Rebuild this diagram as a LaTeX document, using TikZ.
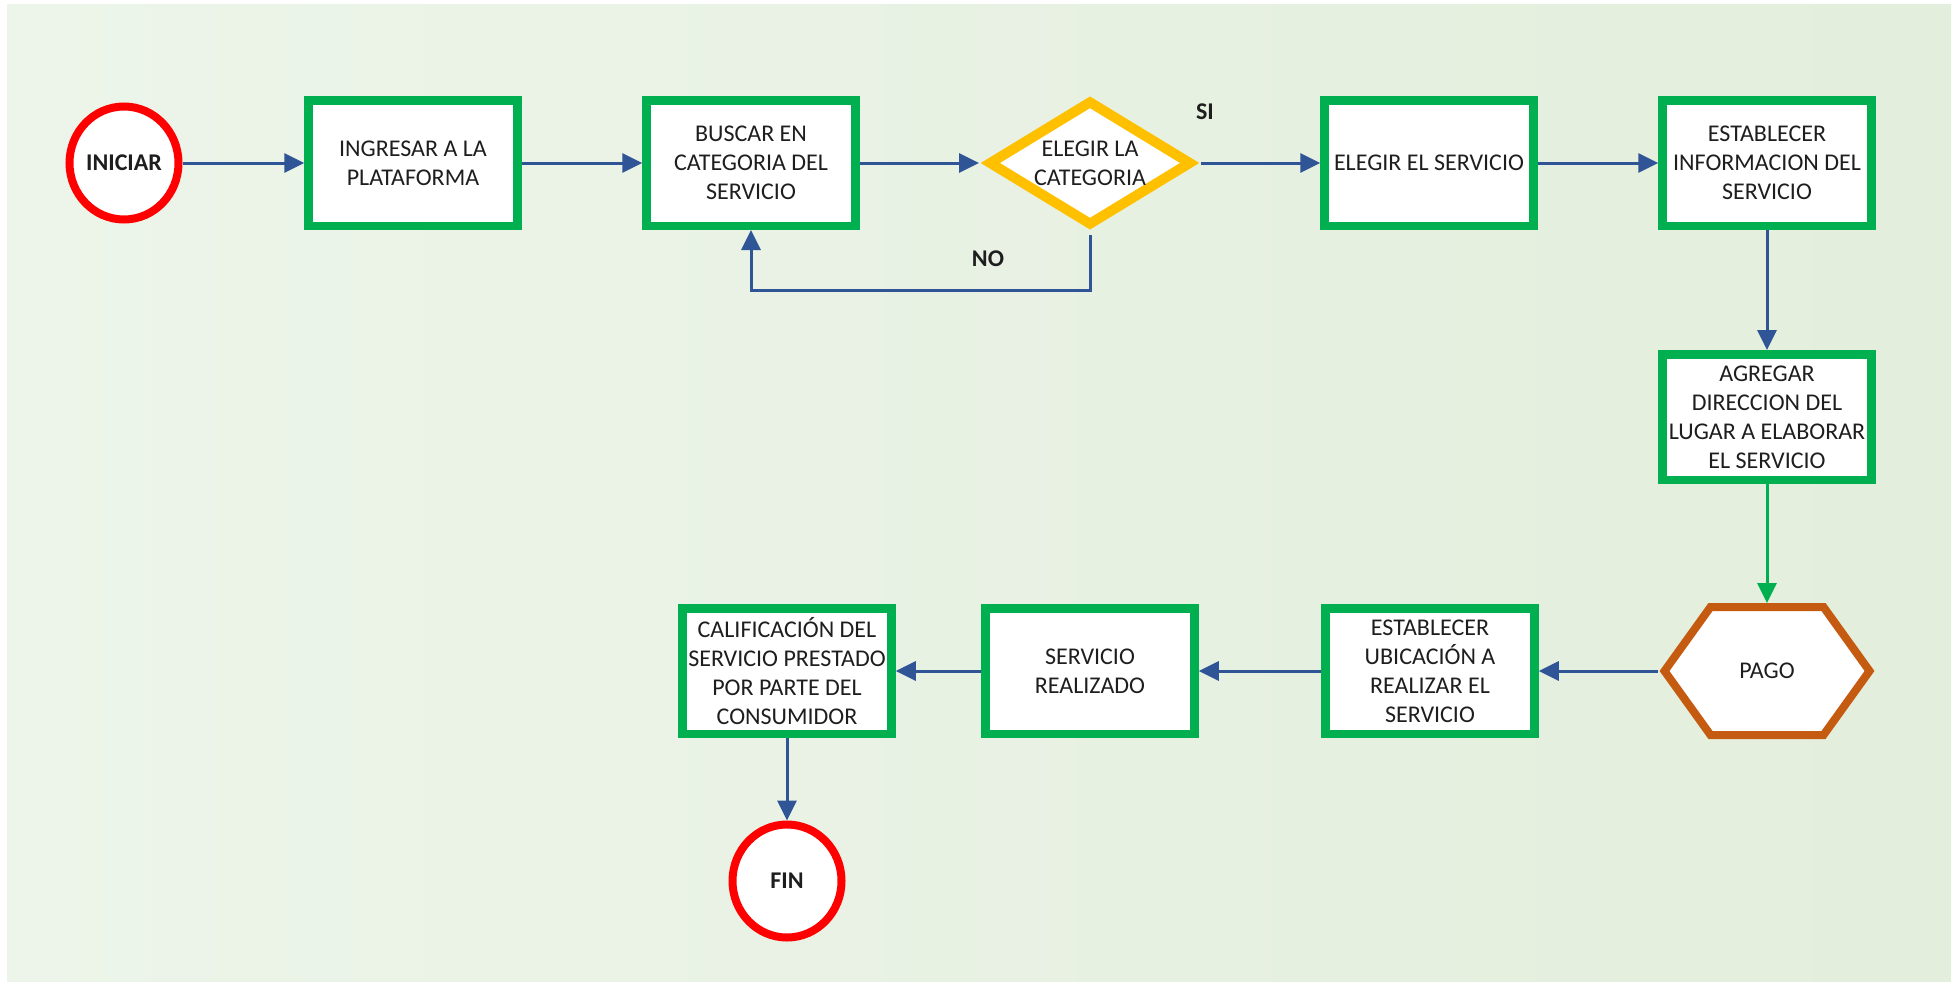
\documentclass[tikz,border=0pt]{standalone}
\usepackage{fontspec}
\setmainfont{Carlito}
\usetikzlibrary{shapes.geometric,arrows.meta,calc}

\definecolor{boxgreen}{HTML}{00B050}
\definecolor{termred}{HTML}{FF0000}
\definecolor{decgold}{HTML}{FFC000}
\definecolor{payorange}{HTML}{C55A11}
\definecolor{flowblue}{HTML}{2F5597}
\definecolor{bgleft}{HTML}{EDF5EA}
\definecolor{bgright}{HTML}{E3EEDC}
\definecolor{ink}{HTML}{1E1E1E}

\begin{document}
\begin{tikzpicture}[x=1pt,y=-1pt,
  font=\fontsize{24}{29}\selectfont,
  every node/.style={text=ink},
  stepbox/.style={draw=boxgreen, line width=8.5pt, fill=white,
    minimum width=209pt, minimum height=125.5pt, inner sep=0pt, align=center},
  terminal/.style={ellipse, draw=termred, line width=8pt, fill=white,
    minimum width=109pt, minimum height=113pt, inner sep=0pt,
    font=\fontsize{24}{29}\selectfont\bfseries},
  decision/.style={diamond, aspect=1.6, draw=decgold, line width=10pt, fill=white,
    minimum width=206pt, minimum height=128pt, inner sep=0pt, outer sep=8pt,
    align=center},
  hexframe/.style={draw=payorange, line width=8pt, fill=white, line join=miter},
  flow/.style={draw=flowblue, line width=3pt, -{Triangle[length=20pt,width=19pt]}},
  greenflow/.style={flow, draw=boxgreen},
  tag/.style={font=\fontsize{24}{29}\selectfont\bfseries}
]
% canvas and soft green backdrop
\useasboundingbox (0,0) rectangle (1959,982);
\shade[left color=bgleft, right color=bgright] (7,5) rectangle (1951,982);

% upper row
\node[terminal] (ini) at (124,163) {INICIAR};
\node[stepbox] (ing) at (413,163) {INGRESAR A LA\\PLATAFORMA};
\node[stepbox] (bus) at (751,163) {BUSCAR EN\\CATEGORIA DEL\\SERVICIO};
\node[decision] (dec) at (1090,163) {ELEGIR LA\\CATEGORIA};
\node[stepbox] (eser) at (1429,163) {ELEGIR EL SERVICIO};
\node[stepbox] (info) at (1767,163) {ESTABLECER\\INFORMACION DEL\\SERVICIO};

% right column
\node[stepbox] (dir) at (1767,417) {AGREGAR\\DIRECCION DEL\\LUGAR A ELABORAR\\EL SERVICIO};

% payment hexagon
\node[minimum width=219pt, minimum height=136pt, inner sep=0pt, outer sep=0pt] (pago) at (1767,671) {};
\draw[hexframe] ($(pago.west)+(7,0)$) -- ($(pago.north west)+(53,4)$)
  -- ($(pago.north east)+(-53,4)$) -- ($(pago.east)+(-7,0)$)
  -- ($(pago.south east)+(-53,-4)$) -- ($(pago.south west)+(53,-4)$) -- cycle;
\node (pagotxt) at (pago.center) {PAGO};

% lower row
\node[stepbox] (ubi) at (1430,671) {ESTABLECER\\UBICACIÓN A\\REALIZAR EL\\SERVICIO};
\node[stepbox] (rea) at (1090,671) {SERVICIO\\REALIZADO};
\node[stepbox] (cal) at (787,671) {CALIFICACIÓN DEL\\SERVICIO PRESTADO\\POR PARTE DEL\\CONSUMIDOR};
\node[terminal] (fin) at (787,881) {FIN};

% connectors
\draw[flow] (ini.east) -- (ing.west);
\draw[flow] (ing.east) -- (bus.west);
\draw[flow] (bus.east) -- (dec.west);
\draw[flow] (dec.east) -- (eser.west);
\draw[flow] (eser.east) -- (info.west);
\coordinate (noturn) at (751,290);
\draw[flow] (dec.south) |- (noturn) -- (bus.south);
\draw[flow] (info.south) -- (dir.north);
\draw[greenflow] (dir.south) -- (pago.north);
\draw[flow] (pago.west) -- (ubi.east);
\draw[flow] (ubi.west) -- (rea.east);
\draw[flow] (rea.west) -- (cal.east);
\draw[flow] (cal.south) -- (fin.north);

% branch labels
\node[tag] (si) at (1205,112) {SI};
\node[tag] (no) at (988,259) {NO};
\end{tikzpicture}
\end{document}
